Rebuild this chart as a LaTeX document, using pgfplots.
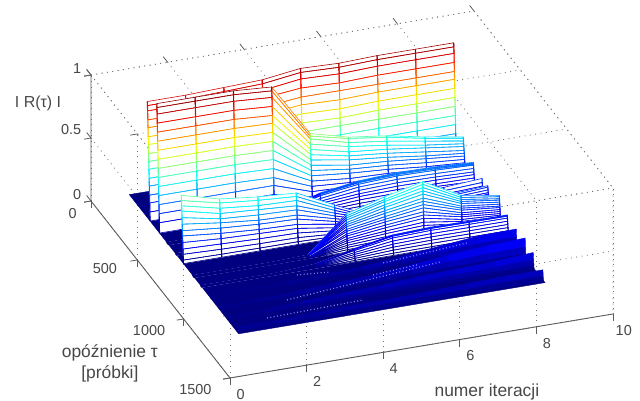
\documentclass[border=0pt]{standalone}
\usepackage{fontspec}
\setmainfont{Liberation Sans}
\usepackage{pgfplots}
\usepackage{pgfplotstable}
\pgfplotsset{compat=1.18}
\pgfplotsset{colormap={whitemap}{color=(white) color=(white)}}
\definecolor{axgray}{gray}{0.36}
\definecolor{txt}{gray}{0.28}
% rows: delay tau, then |R| at iterations 1..9
\pgfplotstableread{
tau z1 z2 z3 z4 z5 z6 z7 z8 z9
194 .92 .92 .93 .94 .98 .97 .98 .98 .98
196 .89 .89 .90 .91 .95 .94 .95 .95 .95
198 .85 .85 .86 .86 .90 .89 .90 .90 .90
200 .78 .78 .79 .80 .83 .82 .83 .83 .83
202 .72 .72 .73 .73 .76 .76 .76 .76 .76
204 .65 .65 .66 .67 .70 .69 .70 .70 .70
206 .59 .59 .60 .60 .63 .62 .63 .63 .63
208 .52 .52 .53 .54 .56 .55 .56 .56 .56
210 .46 .46 .47 .47 .49 .49 .49 .49 .49
212 .40 .40 .40 .40 .42 .42 .42 .42 .42
214 .33 .33 .33 .34 .35 .35 .35 .35 .35
216 .27 .27 .27 .27 .28 .28 .28 .28 .28
218 .20 .20 .20 .21 .22 .21 .22 .22 .22
220 .14 .14 .14 .14 .15 .15 .15 .15 .15
222 .07 .07 .07 .08 .08 .08 .08 .08 .08
224 0 0 0 0 0 0 0 0 0
}\wallB
\pgfplotstableread{
tau z1 z2 z3 z4 z5 z6 z7 z8 z9
297 1 1 1 .98 .56 .48 .44 .38 .33
298 .97 .97 .97 .95 .54 .47 .43 .37 .32
300 .92 .92 .92 .90 .52 .44 .40 .35 .30
302 .85 .85 .85 .83 .48 .41 .37 .32 .28
304 .78 .78 .78 .76 .44 .37 .34 .30 .26
306 .71 .71 .71 .70 .40 .34 .31 .27 .23
308 .64 .64 .64 .63 .36 .31 .28 .24 .21
310 .57 .57 .57 .56 .32 .27 .25 .22 .19
312 .50 .50 .50 .49 .28 .24 .22 .19 .165
314 .43 .43 .43 .42 .24 .21 .19 .16 .14
316 .36 .36 .36 .35 .20 .17 .16 .14 .12
318 .29 .29 .29 .28 .16 .14 .13 .11 .10
320 .22 .22 .22 .22 .12 .11 .10 .08 .07
322 .15 .15 .15 .15 .08 .07 .07 .06 .05
324 .08 .08 .08 .08 .04 .04 .04 .03 .03
326 0 0 0 0 0 0 0 0 0
}\wallA
\pgfplotstableread{
tau z1 z2 z3 z4 z5 z6 z7 z8 z9
406 0 0 0 .10 .19 .235 .25 .245 .23
406.5 0 0 0 .097 .184 .228 .243 .238 .223
407 0 0 0 .094 .179 .221 .235 .23 .216
408 0 0 0 .09 .17 .21 .225 .22 .21
410 0 0 0 .08 .15 .19 .20 .195 .185
412 0 0 0 .07 .13 .165 .175 .17 .16
414 0 0 0 .06 .115 .14 .15 .147 .14
416 0 0 0 .05 .095 .12 .125 .12 .115
418 0 0 0 .04 .075 .095 .10 .10 .09
420 0 0 0 .03 .057 .07 .075 .073 .07
422 0 0 0 .02 .04 .047 .05 .05 .046
424 0 0 0 .01 .02 .024 .025 .025 .023
426 0 0 0 0 0 0 0 0 0
}\wallE
\pgfplotstableread{
tau z1 z2 z3 z4 z5 z6 z7 z8 z9
500 0 0 0 0 .05 .10 .15 .17 .19
502 0 0 0 0 .043 .085 .13 .145 .16
504 0 0 0 0 .035 .07 .105 .12 .133
506 0 0 0 0 .028 .055 .083 .094 .105
508 0 0 0 0 .02 .04 .06 .068 .076
510 0 0 0 0 .013 .025 .038 .043 .048
512 0 0 0 0 .005 .01 .015 .017 .019
514 0 0 0 0 0 0 0 0 0
}\wallF
\pgfplotstableread{
tau z1 z2 z3 z4 z5 z6 z7 z8 z9
561 .52 .44 .405 .386 .24 .10 .13 .17 .19
563 .48 .41 .38 .36 .22 .09 .12 .16 .18
565 .44 .37 .34 .33 .20 .085 .11 .145 .16
567 .40 .33 .31 .29 .18 .08 .10 .13 .14
569 .35 .29 .27 .26 .16 .07 .09 .11 .13
571 .30 .26 .23 .22 .14 .06 .075 .10 .11
573 .25 .22 .20 .19 .12 .05 .064 .083 .093
575 .21 .18 .16 .15 .10 .04 .052 .068 .076
577 .16 .14 .13 .12 .074 .03 .04 .053 .06
579 .11 .10 .09 .085 .053 .022 .03 .037 .042
581 .07 .06 .053 .05 .03 .013 .017 .022 .025
583 .026 .022 .02 .02 .012 .005 .007 .009 .01
585 0 0 0 0 0 0 0 0 0
}\wallC
\pgfplotstableread{
tau z1 z2 z3 z4 z5 z6 z7 z8 z9
686 0 0 0 .01 .285 .37 .44 .28 .23
687 0 0 0 .01 .27 .35 .42 .265 .22
688 0 0 0 .01 .255 .335 .395 .25 .205
689 0 0 0 .01 .24 .31 .37 .235 .195
690 0 0 0 .01 .22 .29 .345 .22 .18
691 0 0 0 .01 .205 .265 .315 .2 .165
692 0 0 0 .01 .19 .245 .29 .185 .15
693 0 0 0 .01 .17 .22 .265 .17 .14
694 0 0 0 .01 .155 .2 .24 .15 .125
695 0 0 0 0 .135 .18 .21 .135 .11
696 0 0 0 0 .12 .155 .185 .12 .095
697 0 0 0 0 .10 .135 .16 .10 .083
698 0 0 0 0 .085 .11 .13 .085 .07
699 0 0 0 0 .068 .09 .105 .067 .055
700 0 0 0 0 .05 .067 .08 .05 .04
701 0 0 0 0 .034 .045 .053 .034 .028
702 0 0 0 0 .017 .022 .026 .017 .014
703 0 0 0 0 0 0 0 0 0
}\wallH
\pgfplotstableread{
tau z1 z2 z3 z4 z5 z6 z7 z8 z9
772 0 0 0 .02 .09 .148 .16 .157 .155
772.5 0 0 0 .019 .087 .144 .155 .152 .15
773 0 0 0 .019 .085 .139 .15 .148 .146
774 0 0 0 .017 .077 .126 .136 .133 .132
776 0 0 0 .014 .063 .104 .112 .11 .109
778 0 0 0 .011 .05 .081 .088 .086 .085
780 0 0 0 .008 .036 .059 .064 .063 .062
782 0 0 0 .005 .023 .037 .04 .039 .039
784 0 0 0 .002 .009 .015 .016 .016 .016
786 0 0 0 0 0 0 0 0 0
}\wallI
\pgfplotstableread{
tau z1 z2 z3 z4 z5 z6 z7 z8 z9
870 .01 .01 .02 .03 .04 .07 .10 .13 .135
873 .006 .006 .012 .018 .024 .042 .06 .078 .08
876 .003 .003 .005 .008 .01 .018 .025 .033 .034
879 0 0 0 0 0 0 0 0 0
}\wallJ
\pgfplotstableread{
tau z1 z2 z3 z4 z5 z6 z7 z8 z9
966 .015 .02 .03 .05 .06 .09 .12 .14 .154
969 .009 .012 .018 .03 .036 .054 .072 .084 .092
972 .004 .005 .008 .013 .015 .023 .03 .035 .039
975 0 0 0 0 0 0 0 0 0
}\wallK
\pgfplotstableread{
tau z1 z2 z3 z4 z5 z6 z7 z8 z9
1053 .01 .02 .04 .05 .06 .08 .09 .10 .12
1056 .006 .012 .024 .03 .036 .048 .054 .06 .072
1059 .003 .005 .01 .013 .015 .02 .023 .025 .03
1062 0 0 0 0 0 0 0 0 0
}\wallL
\pgfplotstableread{
tau z1 z2 z3 z4 z5 z6 z7 z8 z9
1157 .03 .03 .04 .05 .05 .06 .07 .08 .08
1160 .015 .015 .02 .025 .025 .03 .035 .04 .04
1163 0 0 0 0 0 0 0 0 0
}\wallM
\newcommand{\collect}[1]{%
  \gdef\C{}%
  \pgfplotstablegetrowsof{#1}\pgfmathtruncatemacro\N{\pgfplotsretval-1}%
  \pgfplotsforeachungrouped \r in {0,...,\N}{%
    \pgfplotstablegetelem{\r}{tau}\of{#1}\let\t\pgfplotsretval
    \pgfplotsforeachungrouped \k in {1,...,9}{%
      \pgfplotstablegetelem{\r}{z\k}\of{#1}%
      \xdef\C{\C (\k,\t,\pgfplotsretval)}%
    }%
  }%
}
\newcommand{\columns}[1]{%
  \pgfplotstablegetrowsof{#1}\pgfmathtruncatemacro\N{\pgfplotsretval-1}%
  \pgfplotsforeachungrouped \k in {1,...,9}{%
    \gdef\C{}%
    \pgfplotsforeachungrouped \r in {0,...,\N}{%
      \pgfplotstablegetelem{\r}{tau}\of{#1}\let\t\pgfplotsretval
      \pgfplotstablegetelem{\r}{z\k}\of{#1}%
      \xdef\C{\C (\k,\t,\pgfplotsretval)}%
    }%
    \edef\P{\noexpand\addplot3[vline] coordinates {\C};}\P
  }%
}
\newcommand{\wall}[1]{\collect{#1}%
  \edef\P{\noexpand\addplot3[whitepatch] coordinates {\C};
          \noexpand\addplot3[linemesh] coordinates {\C};}\P
  \columns{#1}}
\newcommand{\solidwall}[1]{\collect{#1}%
  \edef\P{\noexpand\addplot3[solidpatch] coordinates {\C};}\P}
\begin{document}
\begin{tikzpicture}
\begin{axis}[
  x={(38.3bp,6.4bp)}, y={(0.09267bp,-0.118bp)}, z={(0bp,126bp)},
  xmin=0,xmax=10,ymin=0,ymax=1500,zmin=0,zmax=1,
  xtick={0,2,4,6,8,10}, ytick={500,1000,1500}, ztick={0,0.5,1},
  extra y ticks={0},
  extra y tick style={yticklabel style={xshift=10bp, yshift=-9bp}},
  tick pos=left,
  scaled ticks=false,
  clip=false,
  grid=major,
  major grid style={line width=.8bp, dash pattern=on .9bp off 4.5bp, black!55},
  axis line style={draw=none},
  tick align=outside,
  major tick length=7bp,
  tick style={axgray, line width=.8bp},
  /pgf/number format/assume math mode=true,
  /pgf/number format/1000 sep={},
  tick label style={font=\fontsize{14.5}{16}\selectfont, text=txt},
  xticklabel style={xshift=3bp, yshift=-1.5bp},
  yticklabel style={xshift=-14bp, yshift=6bp},
  zticklabel style={xshift=-2bp, yshift=-2bp},
  point meta min=0, point meta max=1,
  colormap/jet,
  whitepatch/.style={surf, shader=flat, colormap name=whitemap, point meta=z, mesh/cols=9},
  linemesh/.style={mesh, colormap/jet, point meta=z, mesh/cols=9, line width=.6bp},
  vline/.style={mesh, colormap/jet, point meta=z, line width=1.1bp},
  solidpatch/.style={surf, shader=flat, colormap/jet, point meta=z, mesh/cols=9},
  moire/.style={blue!50!white, line width=1.2bp, dash pattern=on 1bp off 2.4bp},
  xlabel={numer iteracji},
  ylabel={opóźnienie τ\\{[}próbki{]}},
  zlabel={I R(τ) I},
  x label style={at={(axis cs:5.68,1925,0)}, anchor=center, font=\fontsize{17.5}{21}\selectfont, text=txt},
  y label style={at={(axis cs:-2.5,1237,0)}, anchor=center, align=center, font=\fontsize{17.5}{21}\selectfont, text=txt, rotate=0},
  z label style={at={(axis cs:.553,-800,0)}, anchor=center, font=\fontsize{16}{18}\selectfont, text=txt, rotate=-90},
]
\coordinate (O) at (axis cs:0,0,0);
\draw[axgray, line width=.9bp] (axis cs:0,0,1) -- (axis cs:0,0,0) -- (axis cs:0,1500,0) -- (axis cs:10,1500,0);
\draw[black!55, line width=.8bp, dash pattern=on .9bp off 4.5bp] (axis cs:0,0,1) -- (axis cs:10,0,1) -- (axis cs:10,1500,1) -- (axis cs:10,1500,0);
\addplot3[surf, shader=flat, colormap/jet, point meta=z, mesh/cols=2] coordinates {(1,0,0)(9,0,0)(1,1180,0)(9,1180,0)};
\wall{\wallB}
\wall{\wallA}
\wall{\wallE}
\wall{\wallF}
\wall{\wallC}
\wall{\wallH}
\wall{\wallI}
\solidwall{\wallJ}
\solidwall{\wallK}
\solidwall{\wallL}
\solidwall{\wallM}
\addplot3[moire] coordinates {(1.94,1097,0)(4.48,1082,0)};
\addplot3[moire] coordinates {(2.73,987,0)(6.95,894,0)};
\addplot3[moire] coordinates {(3.41,812,0)(4.23,831,0)};
\addplot3[moire] coordinates {(5.62,830,0)(7.92,785,0)};
\addplot3[moire] coordinates {(5.17,907,0)(6.37,887,0)};
\end{axis}
\pgfresetboundingbox
\useasboundingbox (O) ++(-91bp,-200bp) rectangle ++(640bp,401bp);
\end{tikzpicture}
\end{document}
